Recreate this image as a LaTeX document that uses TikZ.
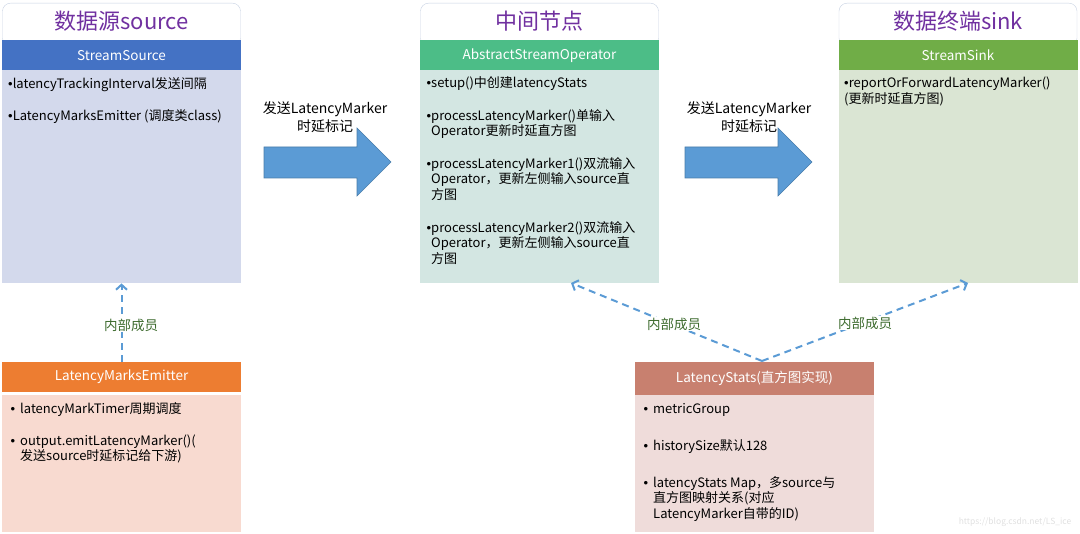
\documentclass[tikz,border=0pt]{standalone}
\usepackage{fontspec}
\setmainfont{Noto Sans CJK SC}
\newfontfamily\bulletfont{Liberation Sans}
\newcommand{\dotmark}{{\bulletfont •}}
\usetikzlibrary{arrows.meta,positioning}

\definecolor{titlepurple}{HTML}{7030A0}
\definecolor{titleframe}{HTML}{C9D3E3}
\definecolor{srchead}{HTML}{4472C4}
\definecolor{srcbody}{HTML}{D3D9EC}
\definecolor{ophead}{HTML}{4CBD87}
\definecolor{opbody}{HTML}{D3E6E2}
\definecolor{sinkhead}{HTML}{70AD47}
\definecolor{sinkbody}{HTML}{DAE5D3}
\definecolor{emithead}{HTML}{ED7D31}
\definecolor{emitbody}{HTML}{F8DAD0}
\definecolor{statshead}{HTML}{C8806F}
\definecolor{statsbody}{HTML}{EFDCDA}
\definecolor{flowblue}{HTML}{5B9BD5}
\definecolor{membergreen}{HTML}{3D6B2E}

\tikzset{
  titleframe/.style={draw=titleframe, fill=white, rounded corners=8pt, minimum width=238pt, minimum height=43pt, anchor=north, inner sep=0pt},
  titletext/.style={text=titlepurple, font=\fontsize{22}{24}\selectfont, inner sep=0pt},
  headbox/.style={minimum width=239pt, minimum height=30pt, text=white, font=\fontsize{13.5}{15}\selectfont, inner sep=0pt, anchor=north},
  bodybox/.style={minimum width=239pt, inner sep=0pt, anchor=north},
  item/.style={anchor=base west, align=left, inner sep=0pt, font=\fontsize{13}{15.5}\selectfont},
  flowlabel/.style={align=center, inner sep=0pt, font=\fontsize{14}{18}\selectfont},
  flowarrow/.style={fill=flowblue, draw=flowblue!80!black, line width=0.6pt},
  memberlabel/.style={fill=white, inner sep=1pt, text=membergreen, font=\fontsize{13.5}{15}\selectfont},
  memberlink/.style={draw=flowblue, dash pattern=on 7pt off 5pt, line width=2pt, -{Straight Barb[length=5pt,width=11pt]}}
}

\begin{document}
\begin{tikzpicture}[x=1pt,y=-1pt]
 \useasboundingbox (0,0) rectangle (1080,534);
 % source column
 \node[titleframe] (srcframe) at (121.5,3) {};
 \node[titletext] (srctitle) at (121.5,21.5) {数据源source};
 \node[bodybox, fill=srcbody, minimum height=213pt] (srcbody) at (121.5,70) {};
 \node[headbox, fill=srchead] (srchead) at (121.5,40) {StreamSource};
 \node[item] (srcitema) at (8,88.5) {\dotmark latencyTrackingInterval发送间隔};
 \node[item] (srcitemb) at (8,120.5) {\dotmark LatencyMarksEmitter (调度类class)};
 % operator column
 \node[titleframe] (opframe) at (539.5,3) {};
 \node[titletext] (optitle) at (539.5,21.5) {中间节点};
 \node[bodybox, fill=opbody, minimum height=213pt] (opbody) at (539.5,70) {};
 \node[headbox, fill=ophead] (ophead) at (539.5,40) {AbstractStreamOperator};
 \node[item] (opitema) at (431,88) {\llap{\dotmark}setup()中创建latencyStats};
 \node[item] (opitemb) at (431,136) {\llap{\dotmark}processLatencyMarker()单输入\\Operator更新时延直方图};
 \node[item] (opitemc) at (431,199.5) {\llap{\dotmark}processLatencyMarker1()双流输入\\Operator，更新左侧输入source直\\方图};
 \node[item] (opitemd) at (431,263.5) {\llap{\dotmark}processLatencyMarker2()双流输入\\Operator，更新左侧输入source直\\方图};
 % sink column
 \node[titleframe] (sinkframe) at (958,3) {};
 \node[titletext] (sinktitle) at (958,21.5) {数据终端sink};
 \node[bodybox, fill=sinkbody, minimum height=213pt] (sinkbody) at (958,70) {};
 \node[headbox, fill=sinkhead] (sinkhead) at (958,40) {StreamSink};
 \node[item] (sinkitema) at (844,103.5) {\dotmark reportOrForwardLatencyMarker()\\(更新时延直方图)};
 % flow arrows
 \draw[flowarrow] (264,147) -- (357,147) -- (357,128) -- (391,162) -- (357,196) -- (357,178) -- (264,178) -- cycle;
 \draw[flowarrow] (685,147) -- (778,147) -- (778,128) -- (812,162) -- (778,196) -- (778,178) -- (685,178) -- cycle;
 \node[flowlabel] (flowa) at (325,117) {发送LatencyMarker\\时延标记};
 \node[flowlabel] (flowb) at (749,117) {发送LatencyMarker\\时延标记};
 % emitter
 \node[bodybox, fill=emitbody, minimum height=137pt] (emitbody) at (121.5,395) {};
 \node[headbox, fill=emithead] (emithead) at (121.5,362) {LatencyMarksEmitter};
 \node[item] (emititema) at (20,413.5) {\llap{\dotmark\hspace{5pt}}latencyMarkTimer周期调度};
 \node[item] (emititemb) at (20,461) {\llap{\dotmark\hspace{5pt}}output.emitLatencyMarker()(\\发送source时延标记给下游)};
 % stats
 \node[bodybox, fill=statsbody, minimum height=137pt] (statsbody) at (754.5,395) {};
 \node[headbox, fill=statshead, minimum height=33pt] (statshead) at (754.5,362) {LatencyStats(直方图实现)};
 \node[item] (statsitema) at (653,413.5) {\llap{\dotmark\hspace{5pt}}metricGroup};
 \node[item] (statsitemb) at (653,450.5) {\llap{\dotmark\hspace{5pt}}historySize默认128};
 \node[item] (statsitemc) at (653,518.5) {\llap{\dotmark\hspace{5pt}}latencyStats Map，多source与\\直方图映射关系(对应\\LatencyMarker自带的ID)};
 % member links
 \coordinate (statstop) at (762,361);
 \coordinate (opport) at (571,283);
 \coordinate (sinkport) at (968,283);
 \draw[memberlink] (emithead.north) -- (srcbody.south);
 \draw[memberlink] (statstop) -- (opport);
 \draw[memberlink] (statstop) -- (sinkport);
 \node[memberlabel] (membera) at (131,325) {内部成员};
 \node[memberlabel] (memberb) at (674,324) {内部成员};
 \node[memberlabel] (memberc) at (865,323) {内部成员};
 \node[text=black!12, inner sep=0pt, font=\fontsize{8.5}{10}\selectfont] (mark) at (1015,522) {https://blog.csdn.net/LS\_ice};
\end{tikzpicture}
\end{document}
